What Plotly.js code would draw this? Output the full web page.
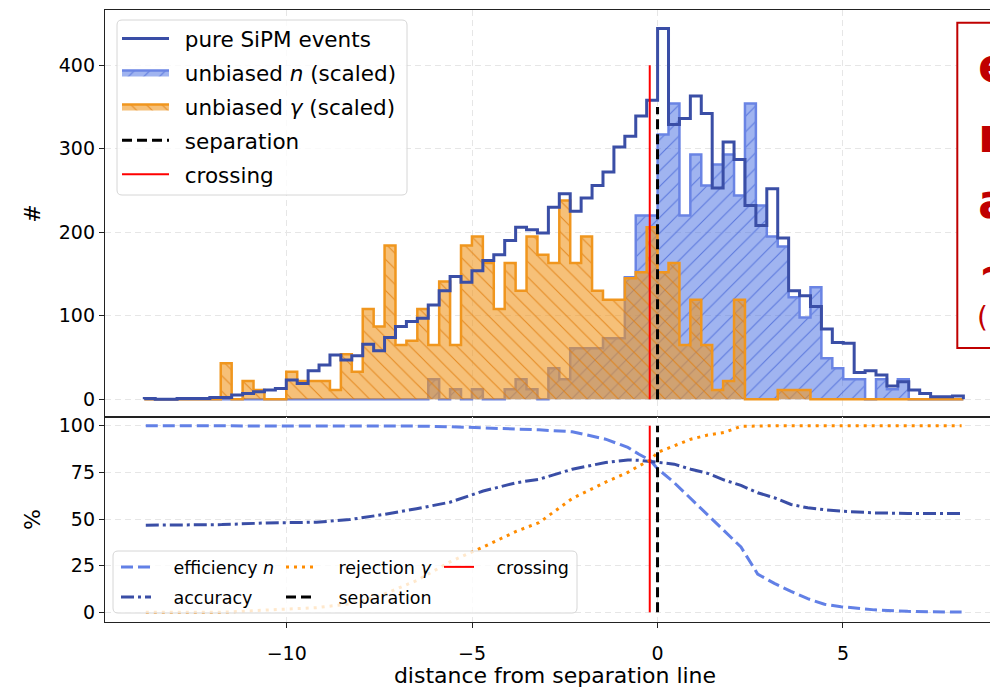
<!DOCTYPE html>
<html><head><meta charset="utf-8">
<script src="https://cdn.plot.ly/plotly-3.0.1.min.js"></script>
<style>html,body{margin:0;padding:0;overflow:hidden;background:#fff}#chart{width:1010px;height:688px}</style>
</head><body><div id="chart"></div>
<script>
// ---------- data ----------
const binStart = -13.84;
const binWidth = 0.2945;
const pureCounts = [1,0,0,1,1,1,2,2,5,7, 9,11,13,23,19,34,41,53,47,52, 66,58,74,87,93,97,113,130,147,140,
  154,166,173,190,206,203,199,230,246,225, 241,256,272,302,315,339,358,444,329,336,
  363,342,253,308,287,232,208,252,193,130, 124,111,84,68,67,32,34,29,16,21, 11,7,3,3,4];
const nCounts = [0,0,0,0,0,0,0,0,0,0, 0,0,0,0,0,0,0,0,0,0, 0,0,0,0,0,0,
  24,0,12,0,12,0,0,12,24,12, 0,37,24,61,61,61,73,73,146,220,
  220,317,354,220,293,256,281,293,244,354, 232,195,183,122,98,134,49,37,24,24,
  0,24,12,24, 0,0,0,0,0];
const gammaCounts = [0,0,0,0,0,0,0,
  43,0,22,11,0,0,33,22,22,22, 11,54,33,108,87,184,65,70,108,65,
  141,65,184,195,163,108,163,130,195,173, 163,238,163,195,130,119,119,145,152,206,
  152,163,65,119,65,11,22,119,0,0, 0,11,11,11,
  0,0,0,0,0,0,0,0,0,0,0,0,0,0];
const curveX = [-13.8,-11.75,-10.55,-9.2,-8.3,-7.4,-6.5,-5.6,-4.7,-3.8,-3.2,-2.3,-1.4,-0.8,-0.5,-0.2,0,
  0.45,0.9,1.35,1.8,2.25,2.7,3.15,3.6,4.05,4.5,4.95,5.85,6.75,8.2];
const efficiencyN = [100,100,100,100,100,100,99.8,99.5,99.0,98.3,97.8,96.8,92.8,88.4,84.7,81.5,77,
  69.5,60.9,52.4,43.4,35,20.5,15.5,11.2,7.3,4.3,3,1.3,0.5,0.1];
const accuracy = [46.7,47,47.9,48.3,49.7,52.4,55.5,59,65,69.5,71.3,76.7,80.3,81.7,81.5,80.8,80.3,
  79.4,76.7,74.5,70.9,68,64.1,61.4,57.8,56,55,54.2,53.3,53,53];
const rejectionGamma = [0,0,1.2,2.5,4.5,9.5,17,27,35,43.5,48,61,69.8,75,78.5,81.5,85.7,
  89.2,92.8,95,96.4,99.7,100,100,100,100,100,100,100,100,100];
const separationX = [0, 0];
const crossingX = [-0.21, -0.21];
const separationTopY = [0, 350];
const crossingTopY = [0, 400];
const markerBottomY = [0, 100];
const xTicks = [-10, -5, 0, 5];
const xTickText = ['\u221210', '\u22125', '0', '5'];
const yTicksTop = [0, 100, 200, 300, 400];
const yTicksBottom = [0, 25, 50, 75, 100];
const boxLetters = ['e', 'n', 'a', '~'];
const boxNote = '(';

// ---------- helpers ----------
function stepOutline(counts) {
  const xs = [binStart], ys = [0];
  for (let k = 0; k < counts.length; k++) { xs.push(binStart + k * binWidth); ys.push(counts[k]); }
  const end = binStart + counts.length * binWidth;
  xs.push(end); ys.push(counts[counts.length - 1]);
  xs.push(end); ys.push(0);
  return {xs, ys};
}
const W = 1010, H = 688, ML = 105, MR = 5, MT = 10, MB = 66;
const PW = W - ML - MR, PH = H - MT - MB;
const px2x = p => (p - ML) / PW;
const py2y = p => (H - MB - p) / PH;
function roundRect(x0, y0, x1, y1, r) {
  const X0 = px2x(x0), X1 = px2x(x1), Y0 = py2y(y0), Y1 = py2y(y1);
  const rx = r / PW, ry = r / PH;
  return `M${X0+rx},${Y0} L${X1-rx},${Y0} Q${X1},${Y0} ${X1},${Y0-ry} L${X1},${Y1+ry} Q${X1},${Y1} ${X1-rx},${Y1} L${X0+rx},${Y1} Q${X0},${Y1} ${X0},${Y1+ry} L${X0},${Y0-ry} Q${X0},${Y0} ${X0+rx},${Y0} Z`;
}

const DARKBLUE = 'rgb(58,78,166)';
const NEDGE = 'rgb(106,132,228)';
const NFILL = 'rgba(65,105,225,0.5)';
const ORANGE = 'rgb(240,150,30)';
const OFILL = 'rgba(240,150,30,0.6)';
const ORANGE_LINE = 'rgb(255,140,0)';
const EFFBLUE = 'rgb(98,128,230)';
const SP_TOP = '\u2002';
const SP_BOT = '\u2002\u2002';

const pureS = stepOutline(pureCounts), nS = stepOutline(nCounts), gS = stepOutline(gammaCounts);

const traces = [
  {x: nS.xs, y: nS.ys, type: 'scatter', mode: 'lines', line: {shape: 'hv', color: NEDGE, width: 2.5},
   fill: 'tozeroy', fillcolor: NFILL,
   fillpattern: {shape: '/', size: 11, solidity: 0.1, bgcolor: NFILL, fgcolor: 'rgba(70,100,215,0.75)', fillmode: 'replace'},
   name: SP_TOP + 'unbiased <i>n</i> (scaled)', legendgroup: 'g2', legendrank: 2, xaxis: 'x', yaxis: 'y'},
  {x: gS.xs, y: gS.ys, type: 'scatter', mode: 'lines', line: {shape: 'hv', color: ORANGE, width: 2.5},
   fill: 'tozeroy', fillcolor: OFILL,
   fillpattern: {shape: '\\', size: 11, solidity: 0.1, bgcolor: OFILL, fgcolor: 'rgba(225,125,15,0.8)', fillmode: 'replace'},
   name: SP_TOP + 'unbiased <i>\u03b3</i> (scaled)', legendgroup: 'g3', legendrank: 3, xaxis: 'x', yaxis: 'y'},
  {x: pureS.xs, y: pureS.ys, type: 'scatter', mode: 'lines', line: {shape: 'hv', color: DARKBLUE, width: 3},
   name: SP_TOP + 'pure SiPM events', legendgroup: 'g1', legendrank: 1, xaxis: 'x', yaxis: 'y'},
  {x: crossingX, y: crossingTopY, type: 'scatter', mode: 'lines', line: {color: 'rgb(255,0,0)', width: 2},
   name: SP_TOP + 'crossing', legendgroup: 'g5', legendrank: 5, xaxis: 'x', yaxis: 'y'},
  {x: separationX, y: separationTopY, type: 'scatter', mode: 'lines', line: {color: '#000', width: 3, dash: '10px,5px'},
   name: SP_TOP + 'separation', legendgroup: 'g4', legendrank: 4, xaxis: 'x', yaxis: 'y'},
  // bottom panel
  {x: curveX, y: efficiencyN, type: 'scatter', mode: 'lines', line: {color: EFFBLUE, width: 3, dash: '12px,5px'},
   name: SP_BOT + 'efficiency <i>n</i>', legend: 'legend2', legendwidth: 120, xaxis: 'x2', yaxis: 'y2'},
  {x: curveX, y: accuracy, type: 'scatter', mode: 'lines', line: {color: DARKBLUE, width: 3, dash: '13px,4px,3px,4px'},
   name: SP_BOT + 'accuracy', legend: 'legend3', legendwidth: 120, xaxis: 'x2', yaxis: 'y2'},
  {x: curveX, y: rejectionGamma, type: 'scatter', mode: 'lines', line: {color: ORANGE_LINE, width: 3, dash: '3px,5px'},
   name: SP_BOT + 'rejection <i>\u03b3</i>', legend: 'legend2', legendwidth: 113, xaxis: 'x2', yaxis: 'y2'},
  {x: crossingX, y: markerBottomY, type: 'scatter', mode: 'lines', line: {color: 'rgb(255,0,0)', width: 2},
   name: SP_BOT + 'crossing', legend: 'legend2', xaxis: 'x2', yaxis: 'y2'},
  {x: separationX, y: markerBottomY, type: 'scatter', mode: 'lines', line: {color: '#000', width: 3, dash: '10px,5px'},
   name: SP_BOT + 'separation', legend: 'legend3', legendwidth: 113, xaxis: 'x2', yaxis: 'y2'}
];

const gridC = '#e6e6e6';
const axisCommon = {showline: true, linecolor: '#222', linewidth: 1.2, mirror: true, zeroline: false,
  showgrid: true, gridcolor: gridC, griddash: '6px,4px', gridwidth: 1};

const shapes = [
  {type: 'path', xref: 'paper', yref: 'paper', layer: 'above', path: roundRect(117, 20, 407, 195, 5),
   fillcolor: 'rgba(255,255,255,0.8)', line: {color: '#d6d6d6', width: 1}},
  {type: 'path', xref: 'paper', yref: 'paper', layer: 'above', path: roundRect(113, 551, 577, 613, 5),
   fillcolor: 'rgba(255,255,255,0.8)', line: {color: '#d6d6d6', width: 1}},
  {type: 'rect', xref: 'paper', yref: 'paper', layer: 'above', x0: px2x(957.3), x1: px2x(1100), y0: py2y(348), y1: py2y(22.7),
   fillcolor: '#fff', line: {color: 'rgb(192,0,0)', width: 2}}
];

const letterY = [65, 135, 201, 269];
const annotations = boxLetters.map((t, i) => ({
  xref: 'paper', yref: 'paper', x: px2x(976), y: py2y(letterY[i]), xanchor: 'left', yanchor: 'middle',
  text: '<b>' + t + '</b>', showarrow: false, font: {family: 'DejaVu Sans', size: 48, color: 'rgb(192,0,0)'}
}));
annotations.push({xref: 'paper', yref: 'paper', x: px2x(975), y: py2y(317), xanchor: 'left', yanchor: 'middle',
  text: boxNote, showarrow: false, font: {family: 'DejaVu Sans', size: 28, color: 'rgb(192,0,0)'}});

const layout = {
  width: W, height: H,
  margin: {l: ML, r: MR, t: MT, b: MB, pad: 0},
  paper_bgcolor: '#fff', plot_bgcolor: '#fff',
  font: {family: 'DejaVu Sans', size: 19, color: '#000'},
  showlegend: true,
  xaxis: Object.assign({}, axisCommon, {domain: [0, 1], anchor: 'y', range: [-14.9, 9.37], tickvals: xTicks,
    showticklabels: false, ticks: ''}),
  yaxis: Object.assign({}, axisCommon, {domain: [0.335, 1], anchor: 'x', range: [-21.2, 466], tickvals: yTicksTop,
    ticks: 'outside', ticklen: 5, tickcolor: '#222', title: {text: '#', font: {size: 22}, standoff: 12}}),
  xaxis2: Object.assign({}, axisCommon, {domain: [0, 1], anchor: 'y2', range: [-14.9, 9.37], tickvals: xTicks,
    ticktext: xTickText, ticks: 'outside', ticklen: 5, tickcolor: '#222', ticklabelstandoff: 9,
    title: {text: 'distance from separation line', font: {size: 22}, standoff: 5}}),
  yaxis2: Object.assign({}, axisCommon, {domain: [0, 0.335], anchor: 'x2', range: [-5.2, 104.7], tickvals: yTicksBottom,
    ticks: 'outside', ticklen: 5, tickcolor: '#222', title: {text: '%', font: {size: 22}, standoff: 12}}),
  legend: {x: px2x(117), xanchor: 'left', y: py2y(18), yanchor: 'top', bgcolor: 'rgba(0,0,0,0)', borderwidth: 0,
    font: {size: 21.5}, traceorder: 'grouped', tracegroupgap: 3, itemwidth: 47},
  legend2: {orientation: 'h', x: px2x(116), xanchor: 'left', y: py2y(549), yanchor: 'top', bgcolor: 'rgba(0,0,0,0)',
    borderwidth: 0, font: {size: 17.5}, traceorder: 'normal'},
  legend3: {orientation: 'h', x: px2x(116), xanchor: 'left', y: py2y(579), yanchor: 'top', bgcolor: 'rgba(0,0,0,0)',
    borderwidth: 0, font: {size: 17.5}, traceorder: 'normal'},
  shapes: shapes,
  annotations: annotations
};

Plotly.newPlot('chart', traces, layout, {staticPlot: true, displayModeBar: false});
</script>
</body></html>
